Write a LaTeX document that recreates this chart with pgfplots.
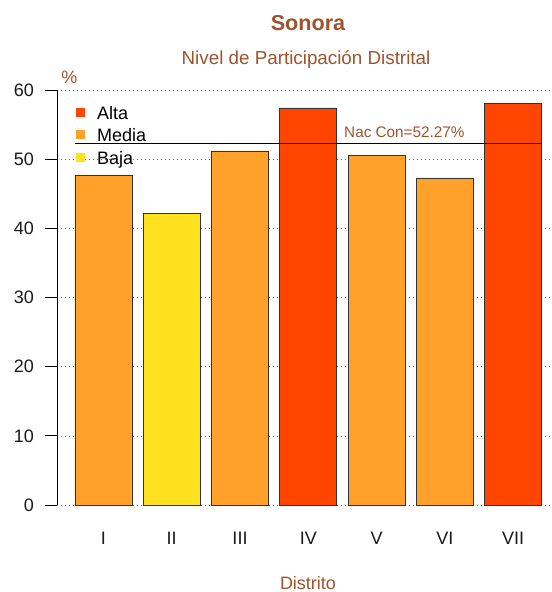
\documentclass[border=0pt]{standalone}
\usepackage{pgfplots}
\pgfplotsset{compat=1.18}
\usepackage{fontspec}
\setmainfont{Liberation Sans}
\definecolor{alta}{HTML}{FF4500}
\definecolor{media}{HTML}{FFA12A}
\definecolor{baja}{HTML}{FFE11F}
\definecolor{txt}{HTML}{A0522D}
\begin{document}
\begin{tikzpicture}
\useasboundingbox (0,0) rectangle (552bp,592bp);
\begin{axis}[
  at={(57bp,87bp)}, anchor=south west,
  scale only axis, width=495bp, height=415bp,
  xmin=-0.681, xmax=6.571, ymin=0, ymax=60,
  axis x line=bottom, axis y line=left,
  x axis line style={draw=none},
  y axis line style={-, black, line width=0.8bp},
  xtick={0,1,2,3,4,5,6},
  xticklabels={I,II,III,IV,V,VI,VII},
  ytick={0,10,20,30,40,50,60},
  tick align=outside, major tick length=12bp,
  major x tick style={draw=none},
  major y tick style={black, line width=0.8bp},
  ymajorgrids,
  grid style={black!60, line width=0.6bp, dash pattern=on 0.8bp off 3.2bp},
  /pgf/number format/assume math mode=true,
  tick label style={font=\fontsize{18bp}{21.6bp}\selectfont, text=black!90},
  yticklabel style={anchor=east, inner sep=0pt, xshift=-11bp},
  xticklabel style={anchor=north, inner sep=0pt, yshift=-15bp},
  ybar, bar width=0.835, bar shift=0pt,
  clip=false,
  legend style={at={(0.0384,0.961)}, anchor=north west, draw=none, fill=none,
    font=\fontsize{18bp}{21.6bp}\selectfont, inner sep=0pt, row sep=5.5bp,
    nodes={inner sep=0pt, text height=13bp, text depth=4bp}},
  legend cell align=left,
  legend image code/.code={\path[draw=none, fill=none] (0bp,0bp) -- (21bp,0bp); \fill[#1, draw=none] (0bp,-2bp) rectangle (9bp,7bp);},
]
\addplot[fill=alta, draw=black!80, line width=0.6bp] coordinates {(3,57.4) (6,58.1)};
\addlegendentry{Alta}
\addplot[fill=media, draw=black!80, line width=0.6bp] coordinates {(0,47.6) (2,51.2) (4,50.5) (5,47.3)};
\addlegendentry{Media}
\addplot[fill=baja, draw=black!80, line width=0.6bp] coordinates {(1,42.2)};
\addlegendentry{Baja}
\addplot[sharp plot, black, line width=0.7bp, forget plot] coordinates {(-0.4175,52.27) (6.4175,52.27)};
\node[anchor=base west, inner sep=0pt, text=txt, font=\fontsize{15.3bp}{18bp}\selectfont] at (axis cs:3.524,53.16) {Nac Con=52.27\%};
\end{axis}
\node[anchor=base, inner sep=0pt, text=txt, font=\bfseries\fontsize{21.6bp}{26bp}\selectfont] at (308bp,561.3bp) {Sonora};
\node[anchor=base, inner sep=0pt, text=txt, font=\fontsize{18.8bp}{22bp}\selectfont] at (306bp,527.7bp) {Nivel de Participación Distrital};
\node[anchor=base, inner sep=0pt, text=txt, font=\fontsize{18bp}{21.6bp}\selectfont] at (69.5bp,508.7bp) {\%};
\node[anchor=base, inner sep=0pt, text=txt, font=\fontsize{18bp}{21.6bp}\selectfont] at (308bp,3bp) {Distrito};
\end{tikzpicture}
\end{document}
